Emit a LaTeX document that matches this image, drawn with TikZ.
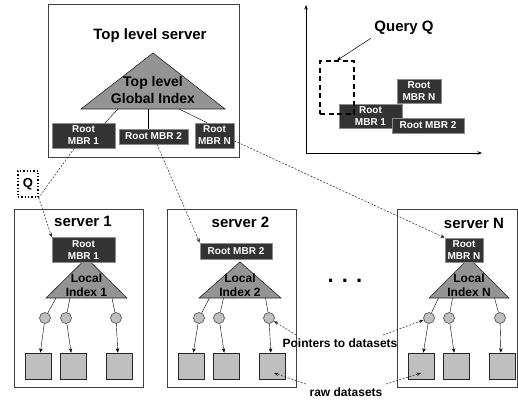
\documentclass[tikz,border=0pt]{standalone}
\usepackage{fontspec}
\setmainfont{Liberation Sans}
\usetikzlibrary{arrows.meta}

\begin{document}
\begin{tikzpicture}[x=1pt,y=-1pt,>={Stealth[length=4.5pt,width=3.5pt]},
    srv/.style={draw=black!75,line width=0.8pt,inner sep=0pt},
    head/.style={font=\bfseries\fontsize{15}{17}\selectfont},
    mbr/.style={fill=black!80,draw=black!45,line width=0.6pt,text=white,
      font=\bfseries\fontsize{10}{12}\selectfont,align=center,inner sep=0pt},
    tri/.style={fill=black!42,draw=black!85,line width=0.6pt},
    idx/.style={font=\bfseries\fontsize{12}{14}\selectfont,align=center},
    ptr/.style={circle,fill=black!25,draw=black!70,line width=0.6pt,
      minimum size=11pt,inner sep=0pt},
    dat/.style={rectangle,fill=black!25,draw=black!85,line width=0.6pt,
      minimum size=26pt,inner sep=0pt},
    lnk/.style={dash pattern=on 2pt off 1.5pt,line width=0.5pt,black!85},
    note/.style={font=\bfseries\fontsize{12}{14}\selectfont}]
    \useasboundingbox (0,0) rectangle (518,400);

    % top level server
    \node[srv,minimum width=191pt,minimum height=153pt] (T) at (143.5,80.5) {};
    \node[head] (th) at (150,36) {Top level server};
    \draw[tri] (153,53) -- (225,109) -- (81,109) -- cycle;
    \node[idx,font=\bfseries\fontsize{14}{17}\selectfont] (ti) at (153,89.5) {Top level\\Global Index};
    \node[mbr,minimum width=63pt,minimum height=25pt] (tm1) at (83.5,135.5) {Root\\MBR 1};
    \node[mbr,minimum width=69pt,minimum height=15pt] (tm2) at (153.5,136.5) {Root MBR 2};
    \node[mbr,minimum width=39pt,minimum height=25pt] (tmN) at (214.5,135.5) {Root\\MBR N};
    \coordinate (g1) at (118,109);
    \coordinate (g2) at (148,109);
    \coordinate (g3) at (179,109);
    \draw (g1) -- ([xshift=-10pt]tm1.north east);
    \draw (g2) -- (g2 |- tm2.north);
    \draw (g3) -- ([xshift=-7.5pt]tmN.north);

    % query box
    \node[draw,dotted,line width=1.3pt,minimum width=20pt,minimum height=26pt,inner sep=0pt,
      font=\bfseries\fontsize{13}{15}\selectfont] (Q) at (28,184) {Q};

    % data space
    \coordinate (O) at (306,153);
    \coordinate (Y) at (306,5);
    \coordinate (X) at (482,153);
    \draw[->,line width=0.6pt] (O) -- (Y);
    \draw[->,line width=0.6pt] (O) -- (X);
    \node[mbr,minimum width=63pt,minimum height=24pt] (pm1) at (370.5,116) {Root\\MBR 1};
    \node[draw,dash pattern=on 5pt off 3.5pt,line width=1.3pt,minimum width=34pt,
      minimum height=53pt,inner sep=0pt] (qr) at (337,87.5) {};
    \node[mbr,minimum width=44pt,minimum height=24pt] (pmN) at (419,91) {Root\\MBR N};
    \node[mbr,minimum width=72pt,minimum height=15pt] (pm2) at (428,125.5) {Root MBR 2};
    \node[head] (qq) at (404,28) {Query Q};
    \draw[->,line width=0.5pt] (qq.south west) -- (qr.north);

    % server 1
    \node[srv,minimum width=129pt,minimum height=178pt] (S1) at (78.5,298) {};
    \node[head] (h1) at (83,221) {server 1};
    \draw[tri] (86.5,258) -- (127,298) -- (46,298) -- cycle;
    \node[idx] (i1) at (86.5,285) {Local\\Index 1};
    \node[mbr,minimum width=63pt,minimum height=25pt] (r1) at (83.5,250) {Root\\MBR 1};
    \node[ptr] (c11) at (45,318) {};
    \node[ptr] (c12) at (66,318) {};
    \node[ptr] (c13) at (116,318) {};
    \node[dat] (d11) at (38,366) {};
    \node[dat] (d12) at (73.5,366) {};
    \node[dat] (d13) at (119,366) {};
    \coordinate (b11) at (56,298);
    \coordinate (b12) at (70,298);
    \coordinate (b13) at (112,298);
    \draw (b11) -- (c11);
    \draw (b12) -- (c12);
    \draw (b13) -- (c13);
    \draw[->] (c11) -- (d11.80);
    \draw[->] (c12) -- (d12.100);
    \draw[->] (c13) -- (d13.95);

    % server 2
    \node[srv,minimum width=129pt,minimum height=178pt] (S2) at (231.5,298) {};
    \node[head] (h2) at (240.5,222) {server 2};
    \draw[tri] (240,262) -- (281,298) -- (199,298) -- cycle;
    \node[idx] (i2) at (240,285) {Local\\Index 2};
    \node[mbr,minimum width=72pt,minimum height=16pt] (r2) at (236,251) {Root MBR 2};
    \node[ptr] (c21) at (199,318) {};
    \node[ptr] (c22) at (219,318) {};
    \node[ptr] (c23) at (269,318) {};
    \node[dat] (d21) at (191,366) {};
    \node[dat] (d22) at (226.5,366) {};
    \node[dat] (d23) at (272,366) {};
    \coordinate (b21) at (209.5,298);
    \coordinate (b22) at (223.5,298);
    \coordinate (b23) at (265.5,298);
    \draw (b21) -- (c21);
    \draw (b22) -- (c22);
    \draw (b23) -- (c23);
    \draw[->] (c21) -- (d21.80);
    \draw[->] (c22) -- (d22.100);
    \draw[->] (c23) -- (d23.95);

    % server N
    \node[srv,minimum width=120pt,minimum height=178pt] (SN) at (457,298) {};
    \node[head] (hN) at (474,223) {server N};
    \draw[tri] (469,258) -- (509,298) -- (429,298) -- cycle;
    \node[idx] (iN) at (469,285) {Local\\Index N};
    \node[mbr,minimum width=38pt,minimum height=24pt] (rN) at (464,250) {Root\\MBR N};
    \node[ptr] (cN1) at (429,318) {};
    \node[ptr] (cN2) at (449,318) {};
    \node[ptr] (cN3) at (500,318) {};
    \node[dat] (dN1) at (421,366) {};
    \node[dat] (dN2) at (456.5,366) {};
    \node[dat] (dN3) at (502,366) {};
    \coordinate (bN1) at (438.5,298);
    \coordinate (bN2) at (452.5,298);
    \coordinate (bN3) at (494.5,298);
    \draw (bN1) -- (cN1);
    \draw (bN2) -- (cN2);
    \draw (bN3) -- (cN3);
    \draw[->] (cN1) -- (dN1.80);
    \draw[->] (cN2) -- (dN2.100);
    \draw[->] (cN3) -- (dN3.95);

    \node[font=\bfseries\fontsize{22}{24}\selectfont] (dots) at (345,281) {. . .};

    % links from the top level
    \draw[lnk] (tm1) -- (Q.south east);
    \draw[lnk,->] (Q.south east) -- (r1.north west);
    \draw[lnk,->] (tm2) -- (r2.north west);
    \draw[lnk,->] (tmN.-15) -- (rN.north west);

    % notes
    \node[note] (pt) at (340,343) {Pointers to datasets};
    \node[note] (rd) at (346,392) {raw datasets};
    \coordinate (e23) at (274,373);
    \coordinate (eN1) at (421,373);
    \draw[lnk,->] ([xshift=17pt]pt.north west) -- (c23);
    \draw[lnk,->] ([xshift=-18pt]pt.north east) -- (cN1);
    \draw[lnk,->] (rd.north west) -- (e23);
    \draw[lnk,->] (rd.north east) -- (eN1);
\end{tikzpicture}
\end{document}
